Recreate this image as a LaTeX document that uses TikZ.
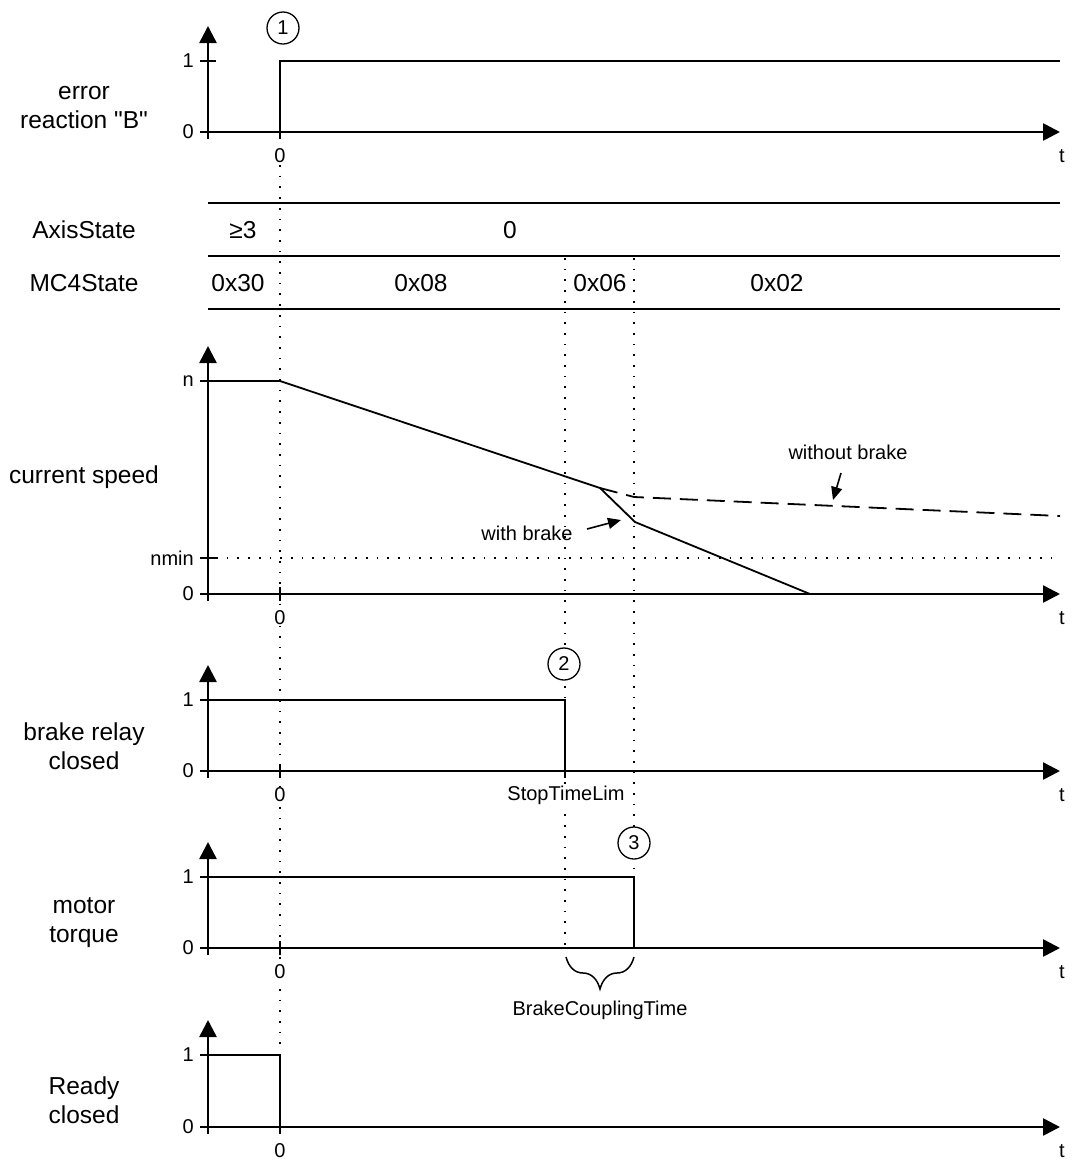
\documentclass[tikz,border=0pt]{standalone}
\usepackage{fontspec}
\setmainfont{Liberation Sans}[Ligatures=TeXOff]
\usetikzlibrary{arrows.meta, decorations.pathreplacing}
\tikzset{
  axis/.style={line width=2.6pt},
  axisarrow/.style={axis, -{Triangle[length=17pt, width=17pt]}},
  sig/.style={line width=1.8pt},
  guide/.style={line width=1.7pt, dash pattern=on 1.7pt off 9pt},
  row/.style={line width=1.2pt},
  big/.style={font=\fontsize{24.5}{29}\selectfont, align=center},
  small/.style={font=\fontsize{20}{22}\selectfont, inner sep=1pt},
  tlabel/.style={small, fill=white},
  marker/.style={circle, draw, line width=1.3pt, fill=white, minimum size=32pt, inner sep=0pt, font=\fontsize{20}{22}\selectfont},
  pointer/.style={line width=1.6pt, -{Triangle[length=13pt, width=11pt]}},
}
\begin{document}
\begin{tikzpicture}[x=1pt, y=-1pt]
  \useasboundingbox (0,0) rectangle (1072,1160);
  % dotted time marks
  \draw[guide] (280,165) -- (280,1048);
  \draw[guide] (565,258) -- (565,946);
  \draw[guide] (634,258) -- (634,868);

  % axes of the five plots
  \foreach \p/\yz/\yo in {err/132/61, spd/594/381, brk/771/700, mot/948/877, rdy/1127/1055} {
    \draw[axisarrow] (208,\yz+7) -- (208,\yo-35);
    \draw[axisarrow] (200,\yz) -- (1060,\yz);
    \draw[axis] (200,\yo) -- (216,\yo);
    \draw[axis] (280,\yz-7) -- (280,\yz+7);
    \node[tlabel] (\p-zero) at (280,\yz+24) {0};
    \node[small] (\p-t) at (1062,\yz+24) {t};
    \node[small, anchor=east] (\p-lo) at (195,\yz) {0};
  }
  \foreach \p/\yo in {err/61, brk/700, mot/877, rdy/1055}
    \node[small, anchor=east] (\p-hi) at (195,\yo) {1};
  \node[small, anchor=east] (spd-hi) at (195,381) {n};
  \node[small, anchor=east] (spd-min) at (195,558) {nmin};
  \draw[axis] (200,558) -- (216,558);
  \draw[guide] (216,558) -- (1060,558);

  % row titles
  \node[big] (lab-err) at (84,108) {error\\reaction "B"};
  \node[big] (lab-ax) at (84,230) {AxisState};
  \node[big] (lab-mc) at (84,283) {MC4State};
  \node[big] (lab-spd) at (84,477) {current speed};
  \node[big] (lab-brk) at (84,746) {brake relay\\closed};
  \node[big] (lab-mot) at (84,923) {motor\\torque};
  \node[big] (lab-rdy) at (84,1100) {Ready\\closed};

  % state table
  \foreach \y in {203,256,309}
    \draw[row] (208,\y) -- (1060,\y);
  \node[big] (ax-a) at (243,230) {≥3};
  \node[big] (ax-b) at (510,230) {0};
  \node[big] (mc-a) at (238,283) {0x30};
  \node[big] (mc-b) at (421,283) {0x08};
  \node[big] (mc-c) at (600,283) {0x06};
  \node[big] (mc-d) at (777,283) {0x02};

  % signals
  \draw[sig] (280,132) -- (280,61) -- (1060,61);
  \draw[sig] (208,381) -- (280,381) -- (600,488) coordinate (split) -- (635,522) -- (810,594);
  \draw[sig, dash pattern=on 18pt off 9pt] (split) -- (634,497) -- (1060,516);
  \draw[sig] (208,700) -- (565,700) -- (565,771);
  \draw[axis] (565,764) -- (565,778);
  \draw[sig] (208,877) -- (634,877) -- (634,948);
  \draw[sig] (208,1055) -- (280,1055) -- (280,1127);

  % notes
  \node[small] (wb) at (527,533) {with brake};
  \node[small] (wob) at (848,452) {without brake};
  \coordinate (wb-from) at (587,529);
  \coordinate (wb-to) at (621,520);
  \coordinate (wob-from) at (841,473);
  \coordinate (wob-to) at (833,500);
  \draw[pointer] (wb-from) -- (wb-to);
  \draw[pointer] (wob-from) -- (wob-to);
  \node[tlabel] (stl) at (566,795) {StopTimeLim};
  \draw[sig, line width=1.5pt, decorate, decoration={brace, mirror, amplitude=32pt}] (566,957) -- (634,957);
  \node[small] (bct) at (600,1010) {BrakeCouplingTime};

  \node[marker] (m1) at (283,28) {1};
  \node[marker] (m2) at (564,664) {2};
  \node[marker] (m3) at (634,843) {3};
\end{tikzpicture}
\end{document}
